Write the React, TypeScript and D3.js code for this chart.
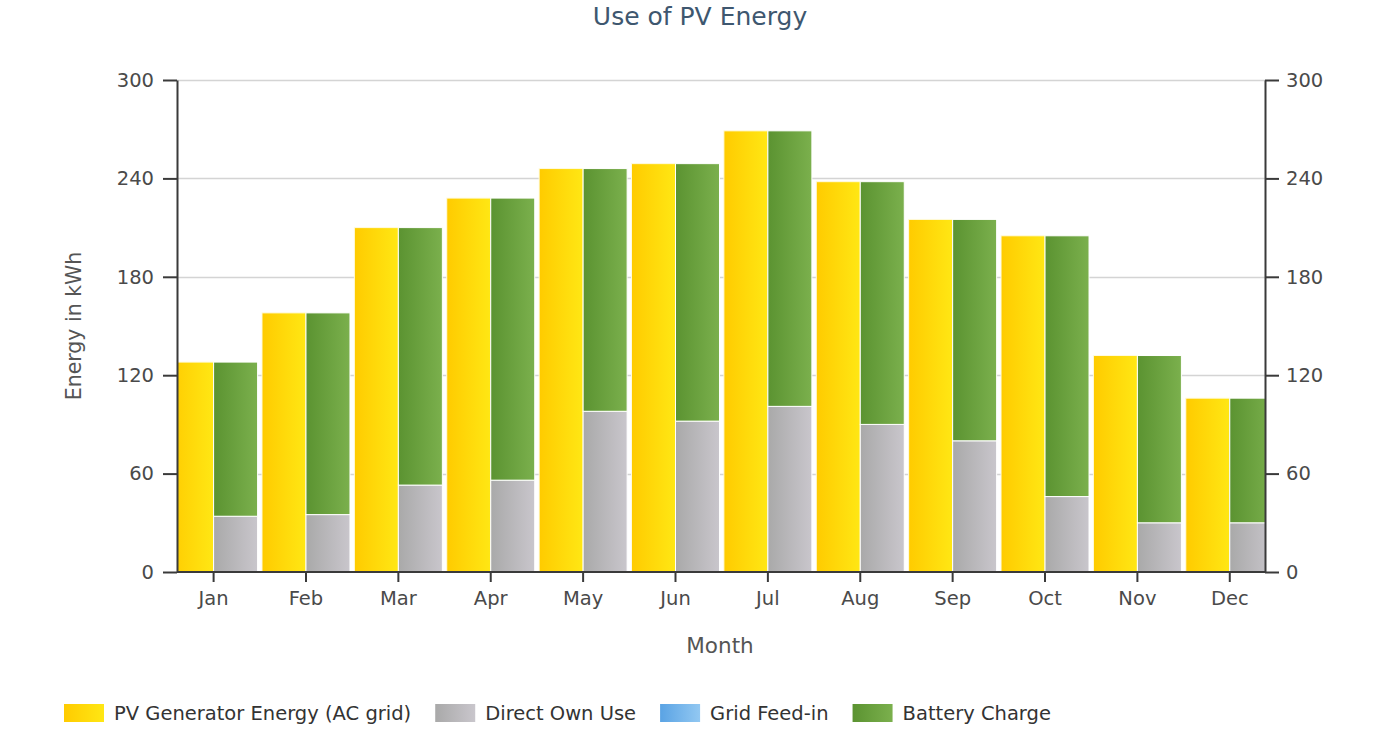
import React, { useEffect, useRef } from 'react';
import * as d3 from 'd3';

const months = ['Jan', 'Feb', 'Mar', 'Apr', 'May', 'Jun', 'Jul', 'Aug', 'Sep', 'Oct', 'Nov', 'Dec'];
const pvGeneratorEnergy = [128, 158, 210, 228, 246, 249, 269, 238, 215, 205, 132, 106];
const directOwnUse = [34, 35, 53, 56, 98, 92, 101, 90, 80, 46, 30, 30];
const gridFeedIn = [0, 0, 0, 0, 0, 0, 0, 0, 0, 0, 0, 0];
const batteryCharge = [94, 123, 157, 172, 148, 157, 168, 148, 135, 159, 102, 76];
const yTicks = [0, 60, 120, 180, 240, 300];
const legendLabels = ['PV Generator Energy (AC grid)', 'Direct Own Use', 'Grid Feed-in', 'Battery Charge'];

const WIDTH = 1400;
const HEIGHT = 735;
const plot = { left: 177, right: 1265, top: 80, bottom: 572 };
const FONT = '"DejaVu Sans", Verdana, sans-serif';

interface Row {
    month: string;
    own: number;
    feed: number;
    battery: number;
}

const App: React.FC = () => {
    const svgRef = useRef<SVGSVGElement>(null);

    useEffect(() => {
        if (!svgRef.current) return;
        const svg = d3.select(svgRef.current);
        svg.selectAll('*').remove();

        // gradients (left darker -> right lighter)
        const defs = svg.append('defs');
        const addGradient = (id: string, from: string, to: string) => {
            const g = defs.append('linearGradient')
                .attr('id', id)
                .attr('x1', 0).attr('x2', 1).attr('y1', 0).attr('y2', 0);
            g.append('stop').attr('offset', '0%').attr('stop-color', from);
            g.append('stop').attr('offset', '100%').attr('stop-color', to);
        };
        addGradient('gYellow', '#ffcb00', '#ffe714');
        addGradient('gGrey', '#a9a9a9', '#c9c6cc');
        addGradient('gBlue', '#5aa3e4', '#92c8f2');
        addGradient('gGreen', '#5b9331', '#7bb04d');
        const fills = ['url(#gYellow)', 'url(#gGrey)', 'url(#gBlue)', 'url(#gGreen)'];

        defs.append('clipPath').attr('id', 'plotClip')
            .append('rect')
            .attr('x', plot.left)
            .attr('y', plot.top - 2)
            .attr('width', plot.right - plot.left)
            .attr('height', plot.bottom - plot.top + 2);

        // scales
        const step = 92.38;
        const firstCenter = 213.6;
        const x = d3.scaleBand<string>()
            .domain(months)
            .range([firstCenter - step / 2, firstCenter - step / 2 + step * months.length])
            .padding(0);
        const groupWidth = 88;
        const x1 = d3.scaleBand<string>().domain(['pv', 'use']).range([0, groupWidth]).padding(0);
        const offset = (x.bandwidth() - groupWidth) / 2;
        const y = d3.scaleLinear().domain([0, 300]).range([plot.bottom, plot.top]);

        // title
        svg.append('text')
            .attr('x', 700)
            .attr('y', 25)
            .attr('text-anchor', 'middle')
            .style('font-family', FONT)
            .style('font-size', '25px')
            .style('fill', '#3e576f')
            .text('Use of PV Energy');

        // grid
        svg.append('g')
            .selectAll('line')
            .data(yTicks.filter((t) => t > 0))
            .enter()
            .append('line')
            .attr('x1', plot.left)
            .attr('x2', plot.right)
            .attr('y1', (d: number) => Math.round(y(d)) + 0.5)
            .attr('y2', (d: number) => Math.round(y(d)) + 0.5)
            .style('stroke', '#d4d4d4')
            .style('stroke-width', 1.5);

        const bars = svg.append('g').attr('clip-path', 'url(#plotClip)');

        // PV generator energy
        bars.append('g')
            .selectAll('rect')
            .data(months)
            .enter()
            .append('rect')
            .attr('x', (m: string) => (x(m) as number) + offset + (x1('pv') as number))
            .attr('width', x1.bandwidth())
            .attr('y', (_m: string, i: number) => y(pvGeneratorEnergy[i]))
            .attr('height', (_m: string, i: number) => y(0) - y(pvGeneratorEnergy[i]))
            .attr('fill', fills[0])
            .style('stroke', '#fffbe0')
            .style('stroke-width', 1);

        // stacked usage
        const rows: Row[] = months.map((m, i) => ({
            month: m,
            own: directOwnUse[i],
            feed: gridFeedIn[i],
            battery: batteryCharge[i],
        }));
        const stacked = d3.stack<Row>().keys(['own', 'feed', 'battery'])(rows);
        stacked.forEach((layer, li) => {
            bars.append('g')
                .selectAll('rect')
                .data(layer.filter((d) => d[1] - d[0] > 0))
                .enter()
                .append('rect')
                .attr('x', (d: any) => (x(d.data.month) as number) + offset + (x1('use') as number))
                .attr('width', x1.bandwidth())
                .attr('y', (d: any) => y(d[1]))
                .attr('height', (d: any) => y(d[0]) - y(d[1]))
                .attr('fill', fills[li + 1])
                .style('stroke', '#ffffff')
                .style('stroke-width', 1);
        });

        const styleAxis = (g: d3.Selection<SVGGElement, unknown, null, undefined>) => {
            g.select('.domain').style('stroke', '#3a3a3a').style('stroke-width', 2);
            g.selectAll('.tick line').style('stroke', '#3a3a3a').style('stroke-width', 2);
            g.selectAll('.tick text')
                .style('font-family', FONT)
                .style('font-size', '19.5px')
                .style('fill', '#4a4a4a');
        };

        // y axes
        const left = svg.append('g')
            .attr('transform', `translate(${plot.left},0)`)
            .call(d3.axisLeft(y).tickValues(yTicks).tickSize(14).tickPadding(9).tickSizeOuter(0));
        styleAxis(left);

        const right = svg.append('g')
            .attr('transform', `translate(${plot.right},0)`)
            .call(d3.axisRight(y).tickValues(yTicks).tickSize(14).tickPadding(7).tickSizeOuter(0));
        styleAxis(right);

        // x axis
        const bottom = svg.append('g')
            .attr('transform', `translate(0,${plot.bottom})`)
            .call(d3.axisBottom(x).tickSize(10).tickPadding(9).tickSizeOuter(0));
        bottom.select('.domain').remove();
        styleAxis(bottom);
        bottom.append('line')
            .attr('x1', plot.left)
            .attr('x2', plot.right)
            .attr('y1', 0)
            .attr('y2', 0)
            .style('stroke', '#3a3a3a')
            .style('stroke-width', 2);

        // axis titles
        svg.append('text')
            .attr('transform', `translate(81, ${(plot.top + plot.bottom) / 2}) rotate(-90)`)
            .attr('text-anchor', 'middle')
            .style('font-family', FONT)
            .style('font-size', '20.5px')
            .style('fill', '#555')
            .text('Energy in kWh');

        svg.append('text')
            .attr('x', 720)
            .attr('y', 653)
            .attr('text-anchor', 'middle')
            .style('font-family', FONT)
            .style('font-size', '21.5px')
            .style('fill', '#555')
            .text('Month');

        // legend
        const legend = svg.append('g');
        let cursor = 64;
        legendLabels.forEach((label, i) => {
            legend.append('rect')
                .attr('x', cursor)
                .attr('y', 704)
                .attr('width', 40)
                .attr('height', 18)
                .attr('fill', fills[i]);
            const t = legend.append('text')
                .attr('x', cursor + 50)
                .attr('y', 720)
                .style('font-family', FONT)
                .style('font-size', '19.5px')
                .style('fill', '#333')
                .text(label);
            const len = (t.node() as SVGTextElement).getComputedTextLength();
            cursor += 50 + len + 24;
        });
    }, []);

    return (
        <svg
            ref={svgRef}
            width={WIDTH}
            height={HEIGHT}
            style={{ position: 'absolute', left: 0, top: 0, background: '#fff' }}
        />
    );
};

export default App;
